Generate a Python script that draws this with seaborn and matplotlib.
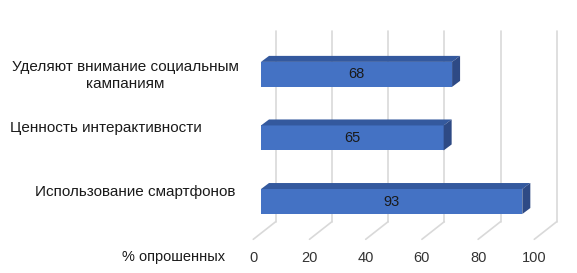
import seaborn as sns
import matplotlib.pyplot as plt
import matplotlib.transforms as mtransforms
from matplotlib.patches import Polygon
from matplotlib.lines import Line2D

categories = ['Уделяют внимание социальным\nкампаниям',
              'Ценность интерактивности',
              'Использование смартфонов']
values = [68, 65, 93]
ticks = [0, 20, 40, 60, 80, 100]
depth_label = '% опрошенных'

sns.set_style('white')
plt.rcParams['font.family'] = ['Liberation Sans', 'DejaVu Sans']

W, H = 577, 273
fig = plt.figure(figsize=(W / 100, H / 100), dpi=100)
# axes spans the mid-depth plane of the fake 3D chart
ax = fig.add_axes([261 / W, 39.7 / H, 281 / W, 190.7 / H])

front = '#4472C4'
top_c = '#34599E'
side_c = '#2E4A85'
grid_c = '#D9D9D9'

# offsets (pixels) of back wall and front floor edge relative to mid plane
back_dx, back_dy = 14.7, 11.6
front_dx, front_dy = -7.7, -6.0
bar_dx, bar_dy = 8, 6

sns.barplot(x=values, y=categories, orient='h', color=front, saturation=1,
            width=0.393, ax=ax, zorder=3, edgecolor='none', linewidth=0)
ax.set_xlim(0, 100)
ax.set_ylim(2.5, -0.5)
for s in ax.spines.values():
    s.set_visible(False)
ax.set_ylabel('')
ax.set_yticks([])

# back wall gridlines and floor lines
blend = mtransforms.blended_transform_factory(ax.transData, ax.transAxes)
back_tr = blend + mtransforms.ScaledTranslation(back_dx / 100, back_dy / 100, fig.dpi_scale_trans)
for v in ticks:
    ax.plot([v, v], [0, 1], color=grid_c, lw=1.2, transform=back_tr, zorder=1, clip_on=False)
    bx, by = blend.transform((v, 0))
    fig.add_artist(Line2D([bx + back_dx, bx + front_dx], [by + back_dy, by + front_dy],
                          color=grid_c, lw=1.2, transform=mtransforms.IdentityTransform()))

# tick labels at front edge of the floor
ax.set_xticks(ticks)
ax.tick_params(axis='x', length=0, pad=12.5, labelsize=10.5, labelcolor='#333333')
shift = mtransforms.ScaledTranslation(front_dx / 100, 0, fig.dpi_scale_trans)
for lab in ax.get_xticklabels():
    lab.set_transform(lab.get_transform() + shift)

# 3D faces of bars
for p, v in zip(ax.patches, values):
    x0, y0 = p.get_x(), p.get_y()
    w, h = p.get_width(), p.get_height()
    (xl, yb), (xr, yt) = ax.transData.transform([(x0, y0 + h), (x0 + w, y0)])
    topf = Polygon([(xl, yt), (xr, yt), (xr + bar_dx, yt + bar_dy), (xl + bar_dx, yt + bar_dy)],
                   closed=True, facecolor=top_c, edgecolor='none',
                   transform=mtransforms.IdentityTransform())
    sidef = Polygon([(xr, yb), (xr, yt), (xr + bar_dx, yt + bar_dy), (xr + bar_dx, yb + bar_dy)],
                    closed=True, facecolor=side_c, edgecolor='none',
                    transform=mtransforms.IdentityTransform())
    fig.add_artist(topf)
    fig.add_artist(sidef)
    ax.text(x0 + w / 2, y0 + h / 2, str(v), ha='center', va='center',
            fontsize=10.5, color='#1a1a1a', zorder=5)

# category labels (sit slightly above bar centres, as in the original)
label_x = [125, 106, 135]
label_dy = [-1, 9.5, 9.5]
for i, (cat, lx, ly) in enumerate(zip(categories, label_x, label_dy)):
    _, py = ax.transData.transform((0, i))
    fig.text(lx / W, (py + ly) / H, cat, ha='center', va='center', multialignment='center',
             fontsize=11, color='#1a1a1a', linespacing=1.25)

fig.text(225 / W, (H - 257) / H, depth_label, ha='right', va='center',
         fontsize=10.5, color='#1a1a1a')

fig.savefig('out.png', dpi=100)
